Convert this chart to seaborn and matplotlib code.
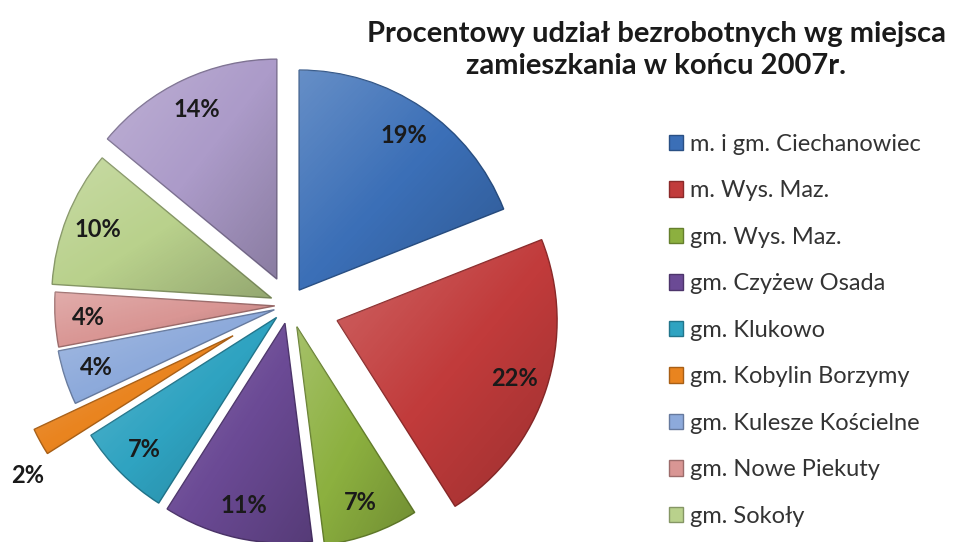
import numpy as np
import matplotlib.pyplot as plt
import seaborn as sns
from matplotlib.colors import to_rgb

sns.set_theme(style="white")
plt.rcParams['font.family'] = ['Lato', 'DejaVu Sans']

# data
title = "Procentowy udział bezrobotnych wg miejsca\nzamieszkania w końcu 2007r."
regions = ["m. i gm. Ciechanowiec", "m. Wys. Maz.", "gm. Wys. Maz.", "gm. Czyżew Osada",
           "gm. Klukowo", "gm. Kobylin Borzymy", "gm. Kulesze Kościelne", "gm. Nowe Piekuty",
           "gm. Sokoły", "gm. Szepietowo"]
shares = [19, 22, 7, 11, 7, 2, 4, 4, 10, 14]

colors = ["#3b6fb7", "#c13b3b", "#8cb03f", "#6b4a95", "#2fa3c1",
          "#e9841f", "#8daadb", "#d99694", "#b9d18c", "#ac9bc9"]
explode = [0.082, 0.23, 0.105, 0.085, 0.08, 0.29, 0.07, 0.065, 0.085, 0.13]

fig = plt.figure(figsize=(9.54, 5.42), dpi=100)
ax = fig.add_axes([0, 0, 1, 1])

wedges, texts, autotexts = ax.pie(
    shares, colors=colors, explode=explode, startangle=90, counterclock=False,
    autopct='%1.0f%%', pctdistance=0.85,
    wedgeprops=dict(linewidth=1.0),
    textprops=dict(fontsize=17, fontweight='bold', color='#1a1a1a'))

# darker outline + soft light-to-dark gradient on each slice
n = 80
gx, gy = np.meshgrid(np.linspace(0, 1, n), np.linspace(0, 1, n))
tt = (gx + gy) / 2  # 0 at top-left, 1 at bottom-right (origin upper)
for w, c in zip(wedges, colors):
    w.set_edgecolor(tuple(np.array(to_rgb(c)) * 0.72))
    verts = w.get_patch_transform().transform(w.get_path().vertices)
    x0, y0 = verts.min(axis=0)
    x1, y1 = verts.max(axis=0)
    rgba = np.zeros((n, n, 4))
    light = tt < 0.5
    rgba[..., :3] = np.where(light[..., None], 1.0, 0.0)
    rgba[..., 3] = np.where(light, 0.22 * (0.5 - tt) * 2, 0.2 * (tt - 0.5) * 2)
    im = ax.imshow(rgba, extent=(x0, x1, y0, y1), origin='upper',
                   zorder=w.get_zorder() + 0.1, interpolation='bilinear')
    im.set_clip_path(w)

for t in autotexts:
    t.set_zorder(5)

# the thin orange slice has its label outside
w = wedges[5]
mid = np.deg2rad((w.theta1 + w.theta2) / 2 + 5.5)
cx, cy = w.center
autotexts[5].set_position((cx + 1.13 * np.cos(mid), cy + 1.13 * np.sin(mid)))

ax.set_xlim(-1.314, 3.023)
ax.set_ylim(-1.077, 1.386)
ax.axis('off')

fig.text(0.688, 0.907, title, ha='center', va='center', fontsize=21,
         fontweight='bold', color='#1a1a1a', linespacing=1.28)

# legend: the last entry falls below the picture, as in the original
fig.legend(wedges, regions, loc='upper left', bbox_to_anchor=(0.701, 0.753),
           frameon=False, fontsize=17, labelspacing=1.08, handlelength=0.62,
           handleheight=0.62, handletextpad=0.3, borderpad=0, borderaxespad=0,
           labelcolor='#333333')

fig.savefig("out.png", dpi=100)
